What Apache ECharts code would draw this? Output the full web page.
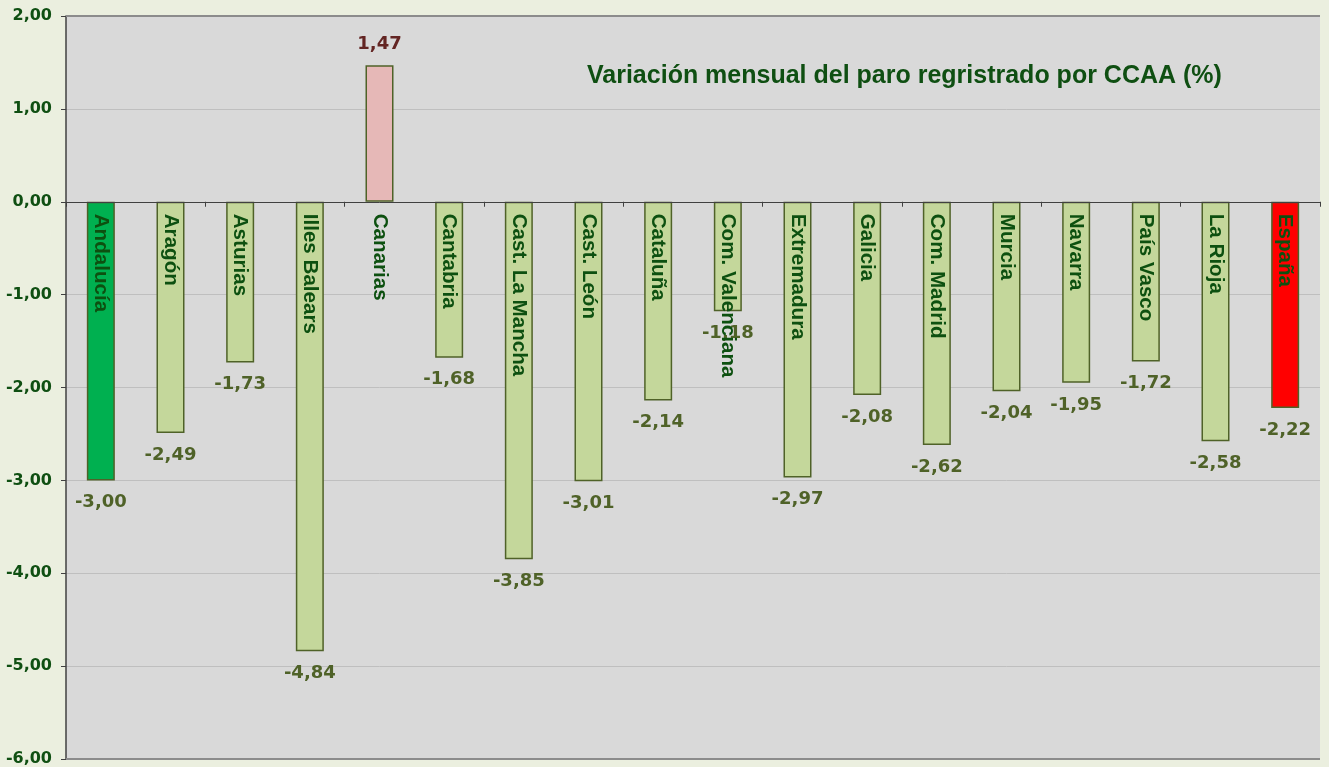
<!DOCTYPE html>
<html>
<head>
<meta charset="utf-8">
<script src="https://cdn.jsdelivr.net/npm/echarts@6/dist/echarts.min.js"></script>
<style>
html,body{margin:0;padding:0;background:#ffffff;}
#c{width:1329px;height:767px;}
</style>
</head>
<body>
<div id="c"></div>
<script>
const categories = ['Andalucía','Aragón','Asturias','Illes Balears','Canarias','Cantabria','Cast. La Mancha','Cast. León','Cataluña','Com. Valenciana','Extremadura','Galicia','Com. Madrid','Murcia','Navarra','País Vasco','La Rioja','España'];
const values = [-3.00,-2.49,-1.73,-4.84,1.47,-1.68,-3.85,-3.01,-2.14,-1.18,-2.97,-2.08,-2.62,-2.04,-1.95,-1.72,-2.58,-2.22];
const barColors = ['#00b050','#c4d79b','#c4d79b','#c4d79b','#e6b8b7','#c4d79b','#c4d79b','#c4d79b','#c4d79b','#c4d79b','#c4d79b','#c4d79b','#c4d79b','#c4d79b','#c4d79b','#c4d79b','#c4d79b','#ff0000'];
const yTicks = {min:-6, max:2, interval:1};
const titleText = 'Variación mensual del paro regristrado por CCAA (%)';

const fmt = v => v.toFixed(2).replace('.', ',');
const chart = echarts.init(document.getElementById('c'));
const data = values.map((v,i)=>({
  value: v,
  itemStyle: {color: barColors[i]},
  label: {
    position: v < 0 ? 'bottom' : 'top',
    distance: v < 0 ? 13 : 12,
    color: v < 0 ? '#4f6228' : '#632523'
  }
}));
const zeroLabels = categories.map(c => 0);
chart.setOption({
  backgroundColor: '#ebefdf',
  animation: false,
  title: {
    text: titleText, left: 582, top: 59,
    textStyle: {fontFamily: 'Liberation Sans, Arial', fontWeight: 'bold', fontSize: 25, color: '#0f4f12'}
  },
  grid: {left: 66, right: 9, top: 16, bottom: 8, containLabel: false, outerBoundsMode: 'none', show: true, backgroundColor: '#d9d9d9', borderWidth: 0},
  xAxis: {
    type: 'category', data: categories,
    axisLine: {onZero: true, lineStyle: {color: '#404040', width: 1}},
    axisTick: {show: true, inside: false, length: 5, lineStyle: {color: '#404040'}},
    axisLabel: {show: false},
    z: 10
  },
  yAxis: {
    type: 'value', min: yTicks.min, max: yTicks.max, interval: yTicks.interval,
    axisLine: {show: true, lineStyle: {color: '#404040', width: 1.5}},
    axisTick: {show: true, length: 5, lineStyle: {color: '#404040'}},
    axisLabel: {formatter: v => fmt(v), margin: 14, fontFamily: 'DejaVu Sans', fontWeight: 'bold', fontSize: 16, color: '#0f4f12'},
    splitLine: {show: true, lineStyle: {color: '#bfbfbf', width: 1}}
  },
  graphic: [
    {type: 'line', shape: {x1: 66, y1: 16, x2: 1320, y2: 16}, style: {stroke: '#8c8c8c', lineWidth: 2}, z: 20},
    {type: 'line', shape: {x1: 66, y1: 759, x2: 1320, y2: 759}, style: {stroke: '#8c8c8c', lineWidth: 2}, z: 20}
  ],
  series: [{
    type: 'bar', data: data, barWidth: 28,
    itemStyle: {borderColor: '#4f6228', borderWidth: 1.5},
    label: {show: true, formatter: p => fmt(p.value), fontFamily: 'DejaVu Sans', fontWeight: 'bold', fontSize: 18}
  }, {
    type: 'scatter', data: zeroLabels, symbolSize: 0, silent: true, z: 10,
    itemStyle: {opacity: 1},
    label: {
      show: true, position: 'bottom', distance: 12, rotate: -90, align: 'left', verticalAlign: 'middle',
      opacity: 1,
      formatter: p => categories[p.dataIndex],
      fontFamily: 'Liberation Sans, Arial', fontWeight: 'bold', fontSize: 20.6, color: '#0d5010'
    }
  }]
});
</script>
</body>
</html>
